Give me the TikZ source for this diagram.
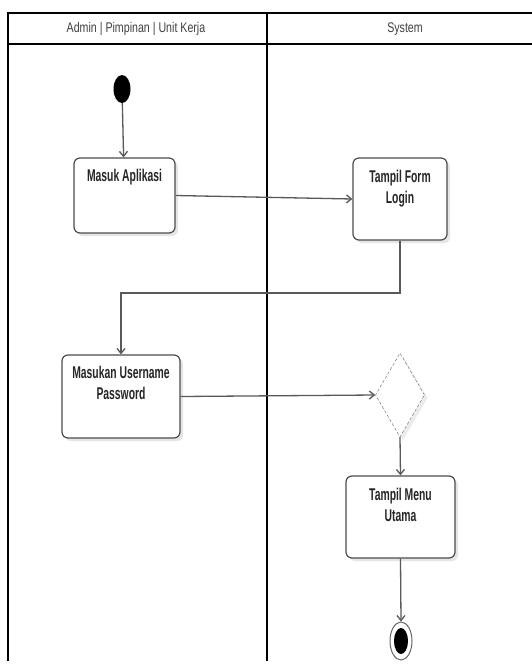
\documentclass[tikz,border=0pt]{standalone}
\usepackage{fontspec}
\setmainfont{Liberation Sans}[FakeStretch=0.61]
\newfontfamily\kepalafont{Liberation Sans}[FakeStretch=0.76]
\usetikzlibrary{arrows.meta,shapes.geometric,shadows,positioning}

\tikzset{
  rahmen/.style={draw=black,line width=2pt},
  pfeil/.style={->,draw=black!65,line width=1.3pt},
  aksi/.style={draw=black!70,line width=1.2pt,rounded corners=6pt,fill=white,
    drop shadow={fill=black!10,opacity=1,shadow xshift=3pt,shadow yshift=-3pt},
    inner sep=0pt},
  judul/.style={inner sep=0pt,align=center,text=black!85,
    font=\fontsize{17}{21}\selectfont\bfseries},
  kepala/.style={inner sep=0pt,text=black!75,font=\kepalafont\fontsize{14}{16}\selectfont},
}

\begin{document}
\begin{tikzpicture}[x=1pt,y=-1pt,>={Straight Barb[length=5pt,width=8pt]}]
\useasboundingbox (0,0) rectangle (532,664);
\fill[white] (0,0) rectangle (532,664);

\draw[rahmen] (8,661) -- (8,13) -- (532,13);
\draw[rahmen] (8,44) -- (532,44);
\draw[rahmen] (267,13) -- (267,661);
\node[kepala] (lane1) at (136,29) {Admin | Pimpinan | Unit Kerja};
\node[kepala] (lane2) at (405,29) {System};

\node[ellipse,fill=black,inner sep=0pt,minimum width=17pt,minimum height=28pt] (mulai) at (122,89) {};

\node[aksi,minimum width=101pt,minimum height=75pt] (masuk) at (124.5,195.5) {};
\node[judul,below=12pt of masuk.north] (masukTxt) {Masuk Aplikasi};

\node[aksi,minimum width=94pt,minimum height=82pt] (login) at (400,199) {};
\node[judul,below=13pt of login.north] (loginTxt) {Tampil Form\\Login};

\node[aksi,minimum width=118pt,minimum height=83pt] (masukan) at (121,396.5) {};
\node[judul,below=12pt of masukan.north] (masukanTxt) {Masukan Username\\Password};

\node[diamond,draw=black!60,densely dashed,fill=white,inner sep=0pt,
  minimum width=49pt,minimum height=84pt,
  drop shadow={fill=black!8,opacity=1,shadow xshift=3pt,shadow yshift=-3pt}] (cek) at (400,395) {};

\node[aksi,minimum width=109pt,minimum height=82pt] (menu) at (400.5,517) {};
\node[judul,below=13pt of menu.north] (menuTxt) {Tampil Menu\\Utama};

\node[ellipse,draw=black!60,line width=1pt,fill=white,inner sep=0pt,minimum width=22pt,minimum height=38pt] (selesai) at (401,641) {};
\node[ellipse,fill=black,inner sep=0pt,minimum width=14pt,minimum height=26pt] (selesaiIsi) at (selesai.center) {};

\coordinate (belok) at (400,293);

\draw[pfeil] (mulai) -- (masuk);
\draw[pfeil] (masuk.east) -- (login.west);
\draw[pfeil] (login.south) -- (belok) -| (masukan.north);
\draw[pfeil] (masukan.east) -- (cek.west);
\draw[pfeil] (cek.south) -- (menu.north);
\draw[pfeil] (menu.south) -- (selesai.north);
\end{tikzpicture}
\end{document}
